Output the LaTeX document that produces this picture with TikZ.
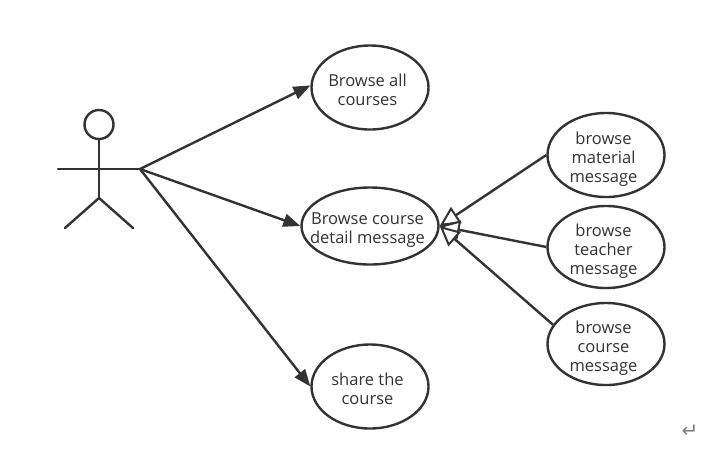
\documentclass[tikz,border=0pt]{standalone}
\usepackage{fontspec}
\setmainfont{Open Sans}
\newfontfamily\symfont{DejaVu Sans}
\usetikzlibrary{shapes.geometric,arrows.meta}
\definecolor{ink}{HTML}{333333}
\newcommand\lineshift{\hspace*{-5pt}}
\newcommand\firstline[1]{\rule{0pt}{#1}\hspace*{-5pt}}
\tikzset{
  line/.style={draw=ink,line width=2.4pt},
  usecase/.style={line,ellipse,inner ysep=-10pt,inner xsep=-12pt,align=center,text=ink,font=\fontsize{16.5}{19}\selectfont,minimum width=117pt,minimum height=84pt},
  assoc/.style={line,-{Stealth[length=17pt,width=13pt,inset=0pt]}},
  general/.style={line,-{Triangle[open,length=20pt,width=19pt,fill=white,line width=2pt]}},
  limb/.style={line,line cap=round},
}
\begin{document}
\begin{tikzpicture}[x=1pt,y=-1pt]
\useasboundingbox (0,0) rectangle (703,456);
% actor
\node[line,circle,minimum size=29pt,inner sep=0pt] (head) at (99,124.5) {};
\coordinate (hip) at (99,198);
\coordinate (handL) at (58,169);
\coordinate (handR) at (140,169);
\coordinate (footL) at (65,228);
\coordinate (footR) at (133,228);
\draw[limb] (head.south) -- (hip);
\draw[limb] (handL) -- (handR);
\draw[limb] (footL) -- (hip) -- (footR);
% use cases
\node[usecase] (all) at (370,87.5) {\firstline{18pt}Browse all\\\lineshift courses};
\node[usecase,minimum width=137pt,minimum height=77pt] (detail) at (370,226) {\firstline{20pt}Browse course\\\lineshift detail message};
\node[usecase] (share) at (370,386.5) {\firstline{18pt}share the\\\lineshift course};
\node[usecase] (material) at (606,155) {\firstline{20pt}browse\\\lineshift material\\\lineshift message};
\node[usecase,minimum height=82pt] (teacher) at (606,247) {\firstline{20pt}browse\\\lineshift teacher\\\lineshift message};
\node[usecase,minimum height=82pt] (course) at (606,344) {\firstline{20pt}browse\\\lineshift course\\\lineshift message};
% connectors
\draw[assoc] (handR) -- (all.178);
\draw[assoc] (handR) -- (detail.west);
\draw[assoc] (handR) -- (share.west);
\draw[general] (material.west) -- (detail.east);
\draw[general] (teacher.west) -- (detail.east);
\draw[general] (course.160) -- (detail.east);
% return mark
\node[text=gray,inner sep=0pt,font=\symfont\fontsize{20}{20}\selectfont] (mark) at (690,431) {↵};
\end{tikzpicture}
\end{document}
